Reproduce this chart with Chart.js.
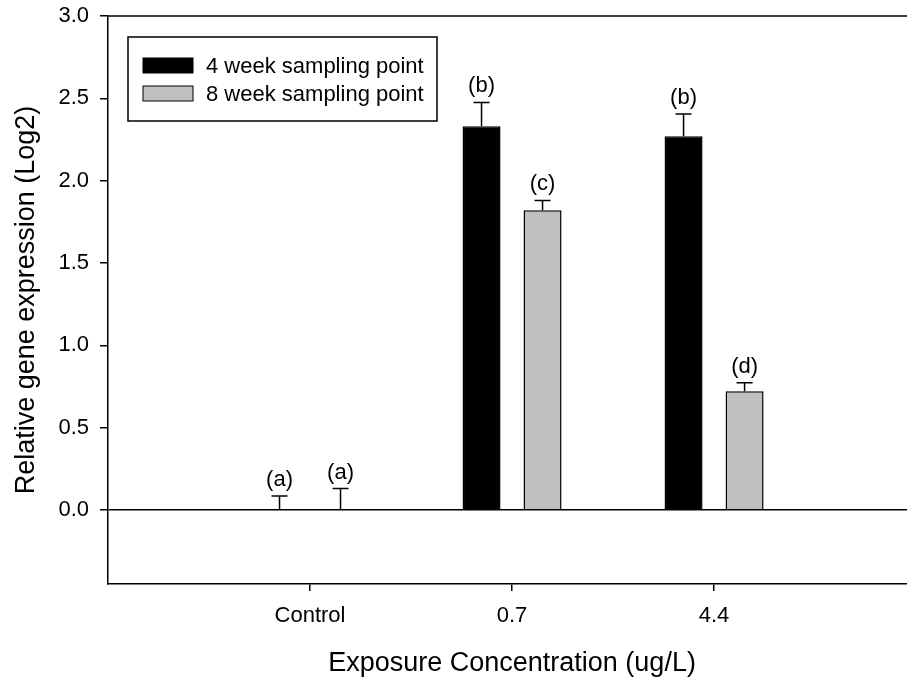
<!DOCTYPE html>
<html>
<head>
<meta charset="utf-8">
<script src="https://cdn.jsdelivr.net/npm/chart.js@4/dist/chart.umd.min.js"></script>
<style>
  html, body { margin: 0; padding: 0; background: #fff; }
  #wrap { width: 907px; height: 680px; }
</style>
</head>
<body>
<div id="wrap"><canvas id="chart" width="907" height="680"></canvas></div>
<script>
// Exposure groups and relative expression (log2) at each sampling point
const categories = ['Control', '0.7', '4.4'];
const week4 = [0.0, 2.33, 2.27];
const week4Err = [0.085, 0.145, 0.135];
const week8 = [0.0, 1.82, 0.72];
const week8Err = [0.13, 0.06, 0.052];
const week4Letters = ['(a)', '(b)', '(b)'];
const week8Letters = ['(a)', '(c)', '(d)'];
const seriesNames = ['4 week sampling point', '8 week sampling point'];
const yTicks = [0.0, 0.5, 1.0, 1.5, 2.0, 2.5, 3.0];
const xTitle = 'Exposure Concentration (ug/L)';
const yTitle = 'Relative gene expression (Log2)';

const FONT = "'Liberation Sans', Arial, Helvetica, sans-serif";
Chart.defaults.font.family = FONT;
Chart.defaults.color = '#000';

const errors = [week4Err, week8Err];
const letters = [week4Letters, week8Letters];

// Upward error bars plus significance letters above each cap
const errorBars = {
  id: 'errorBars',
  afterDatasetsDraw(chart) {
    const ctx = chart.ctx;
    const y = chart.scales.y;
    ctx.save();
    ctx.strokeStyle = '#000';
    ctx.lineWidth = 1.5;
    ctx.fillStyle = '#000';
    ctx.font = '22px ' + FONT;
    ctx.textAlign = 'center';
    ctx.textBaseline = 'middle';
    chart.data.datasets.forEach((ds, di) => {
      const meta = chart.getDatasetMeta(di);
      meta.data.forEach((bar, i) => {
        const v = ds.data[i].y;
        const top = y.getPixelForValue(v + errors[di][i]);
        const base = y.getPixelForValue(v);
        ctx.beginPath();
        ctx.moveTo(bar.x, base);
        ctx.lineTo(bar.x, top);
        ctx.moveTo(bar.x - 8, top);
        ctx.lineTo(bar.x + 8, top);
        ctx.stroke();
        ctx.fillText(letters[di][i], bar.x, top - 16);
      });
    });
    ctx.restore();
  }
};

// Top frame line, boxed legend and the x axis title
const frame = {
  id: 'frame',
  afterDraw(chart) {
    const ctx = chart.ctx;
    const a = chart.chartArea;
    ctx.save();
    ctx.strokeStyle = '#000';
    ctx.lineWidth = 1.5;
    ctx.beginPath();
    ctx.moveTo(a.left, a.top);
    ctx.lineTo(a.right, a.top);
    ctx.stroke();

    // legend box
    const bx = a.left + 20, by = a.top + 21, bw = 309, bh = 84;
    ctx.lineWidth = 1.5;
    ctx.strokeRect(bx, by, bw, bh);
    ctx.font = '22px ' + FONT;
    ctx.textAlign = 'left';
    ctx.textBaseline = 'middle';
    chart.data.datasets.forEach((ds, i) => {
      const cy = by + 28.5 + i * 28;
      ctx.fillStyle = ds.backgroundColor;
      ctx.fillRect(bx + 15, cy - 7.5, 50, 15);
      ctx.lineWidth = 1;
      ctx.strokeRect(bx + 15, cy - 7.5, 50, 15);
      ctx.fillStyle = '#000';
      ctx.fillText(ds.label, bx + 78, cy + 1);
    });

    // x axis title, centred on the middle group
    const xs = chart.scales.x;
    ctx.font = '27px ' + FONT;
    ctx.textAlign = 'center';
    ctx.fillText(xTitle, xs.getPixelForValue(2), a.bottom + 80);
    ctx.restore();
  }
};

new Chart(document.getElementById('chart'), {
  type: 'bar',
  data: {
    datasets: [
      {
        label: seriesNames[0],
        data: week4.map((v, i) => ({ x: i + 1, y: v })),
        backgroundColor: '#000000',
        borderColor: '#000000',
        borderWidth: 1.5
      },
      {
        label: seriesNames[1],
        data: week8.map((v, i) => ({ x: i + 1, y: v })),
        backgroundColor: '#c0c0c0',
        borderColor: '#000000',
        borderWidth: 1.5
      }
    ]
  },
  options: {
    responsive: false,
    animation: false,
    devicePixelRatio: 1,
    categoryPercentage: 0.604,
    barPercentage: 0.623,
    layout: { padding: { top: 16, right: 0, left: 0, bottom: 0 } },
    plugins: {
      legend: { display: false },
      tooltip: { enabled: false }
    },
    scales: {
      x: {
        type: 'linear',
        min: 0,
        max: 3.955,
        offset: false,
        afterBuildTicks: s => { s.ticks = categories.map((_, i) => ({ value: i + 1 })); },
        afterFit: s => { s.height = 96; s.paddingLeft = 0; s.paddingRight = 0; },
        grid: { offset: false, drawOnChartArea: false, tickColor: '#000', tickLength: 7, lineWidth: 1.5 },
        border: { color: '#000', width: 1.5 },
        ticks: {
          padding: 12,
          font: { size: 22 },
          color: '#000',
          maxRotation: 0,
          callback: v => categories[v - 1]
        }
      },
      y: {
        min: -0.45,
        max: 3.0,
        afterBuildTicks: s => { s.ticks = yTicks.map(v => ({ value: v })); },
        afterFit: s => { s.width = 108; s.paddingTop = 0; s.paddingBottom = 0; },
        grid: {
          color: c => (c.tick && c.tick.value === 0 ? '#000' : 'rgba(0,0,0,0)'),
          lineWidth: 1.5,
          tickColor: '#000',
          tickLength: 8
        },
        border: { color: '#000', width: 1.5 },
        ticks: {
          padding: 11,
          font: { size: 22 },
          color: '#000',
          callback: v => Number(v).toFixed(1)
        },
        title: {
          display: true,
          text: yTitle,
          font: { size: 27 },
          color: '#000',
          padding: { top: 10, bottom: 0 }
        }
      }
    }
  },
  plugins: [errorBars, frame]
});
</script>
</body>
</html>
